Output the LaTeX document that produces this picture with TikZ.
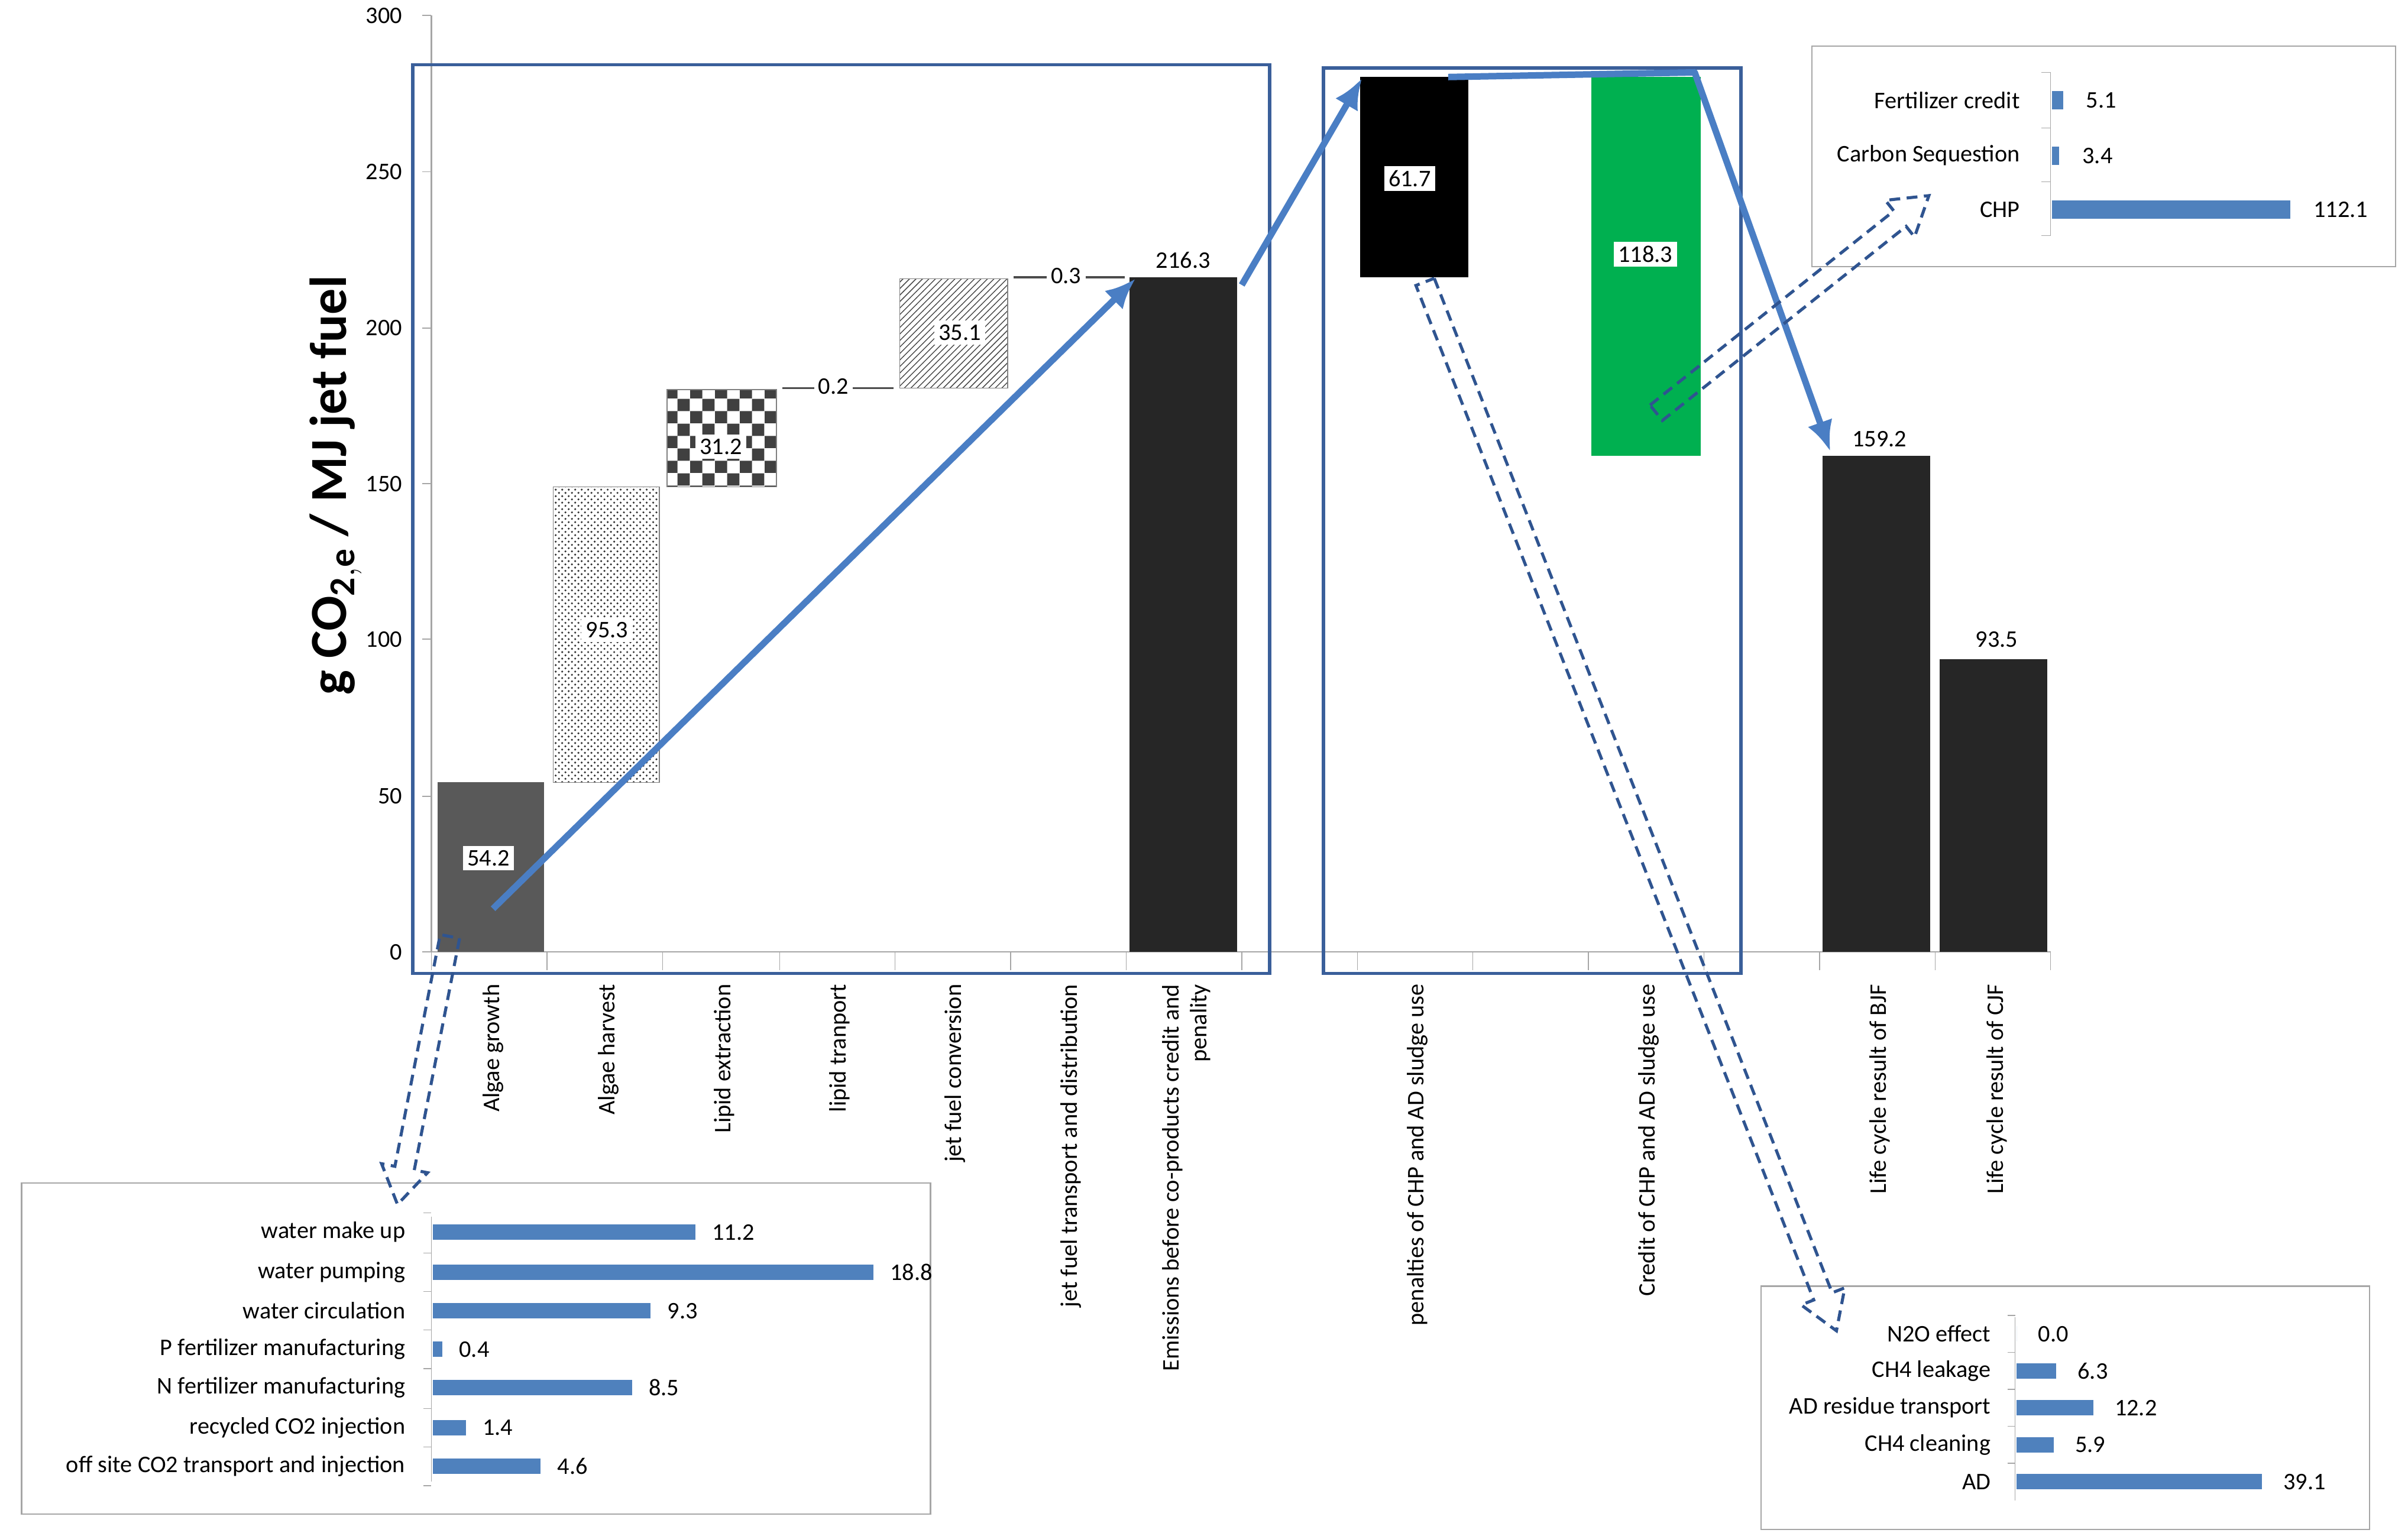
\documentclass[tikz,border=0pt]{standalone}
\usepackage{fontspec}
\setmainfont{Carlito}
\usetikzlibrary{calc,patterns,arrows.meta}
\definecolor{ablue}{HTML}{4A7EC4}
\definecolor{bblue}{HTML}{3A5F9A}
\definecolor{dblue}{HTML}{2F5490}
\definecolor{ibar}{HTML}{4F81BD}
\definecolor{agreen}{HTML}{00B050}
\tikzset{
 lbl/.style={font=\fontsize{11pt}{13pt}\selectfont},
 vbox/.style={fill=white,inner sep=2pt,lbl},
 frame/.style={draw=bblue,line width=1.6pt},
 barrow/.style={draw=ablue,line width=3pt,-{Latex[length=14pt,width=12pt]}},
 harrow/.style={draw=dblue,line width=1.4pt,dash pattern=on 5pt off 3pt},
 cat/.style={lbl,rotate=90,anchor=east,align=right},
 ibarst/.style={fill=ibar,draw=none},
 inset/.style={draw=gray!70,line width=0.6pt,fill=white},
}
\newcommand\hollowarrow[3]{%
 \coordinate (#3h) at ($(#2)!0.6cm!(#1)$);
 \draw[harrow] ($(#1)!0.16cm!90:(#2)$) -- ($(#3h)!0.16cm!90:(#2)$) -- ($(#3h)!0.38cm!90:(#2)$) -- (#2)
  -- ($(#3h)!0.38cm!-90:(#2)$) -- ($(#3h)!0.16cm!-90:(#2)$) -- ($(#1)!0.16cm!-90:(#2)$) -- cycle;}
\begin{document}
\begin{tikzpicture}[x=0.025cm,y=-0.025cm]
\useasboundingbox (0,0) rectangle (1563,995);
% axes
\draw[gray!70,line width=0.6pt] (280,10) -- (280,618) -- (1331,618);
\foreach \v/\yy in {0/618,50/517,100/415,150/314,200/213,250/111.5,300/10}{
 \draw[gray!70] (274,\yy) -- (280,\yy);
 \node[lbl,anchor=east] (t\v) at (266,\yy) {\v};}
\foreach \xx in {280,355,430,506,581,656,731,806,881,956,1031,1106,1181,1256,1331}
 \draw[gray!70] (\xx,618) -- (\xx,630);
\node[rotate=90,font=\fontsize{24pt}{28pt}\selectfont\bfseries] (ytitle) at (218,315) {g CO$_{\mathbf{2,e}}$ / MJ jet fuel};
% bars
\fill[black!65] (284,508) rectangle (353,618);
\draw[gray,pattern=crosshatch dots,pattern color=black!80] (359,316) rectangle (428,508);
\draw[gray,pattern=checkerboard,pattern color=black!75] (433,253) rectangle (504,316);
\draw[black!70,line width=1pt] (508,252) -- (580,252);
\draw[gray,pattern=north east lines,pattern color=black!70] (584,181) rectangle (654,252);
\draw[black!70,line width=1pt] (658,180) -- (730,180);
\fill[black!85] (733,180) rectangle (803,618);
\fill[black] (883,50) rectangle (953,180);
\fill[agreen] (1033,50) rectangle (1104,296);
\fill[black!85] (1183,296) rectangle (1253,618);
\fill[black!85] (1259,428) rectangle (1329,618);
\node[vbox] (v1) at (317,557) {54.2};
\node[vbox] (v2) at (394,409) {95.3};
\node[vbox] (v3) at (468,290) {31.2};
\node[vbox] (v4) at (541,251) {0.2};
\node[vbox] (v5) at (623,216) {35.1};
\node[vbox] (v6) at (692,179) {0.3};
\node[lbl] (v7) at (768,169) {216.3};
\node[vbox] (v8) at (915,116) {61.7};
\node[vbox] (v9) at (1068,165) {118.3};
\node[lbl] (v10) at (1220,285) {159.2};
\node[lbl] (v11) at (1296,415) {93.5};
% categories
\node[cat] (c1) at (320,634) {Algae growth};
\node[cat] (c2) at (395,634) {Algae harvest};
\node[cat] (c3) at (470,634) {Lipid extraction};
\node[cat] (c4) at (545,634) {lipid tranport};
\node[cat] (c5) at (620,634) {jet fuel conversion};
\node[cat] (c6) at (695,634) {jet fuel transport and distribution};
\node[cat] (c7) at (770,634) {Emissions before co-products credit and\\penality};
\node[cat] (c8) at (920,634) {penalties of CHP and AD sludge use};
\node[cat] (c9) at (1070,634) {Credit of CHP and AD sludge use};
\node[cat] (c10) at (1220,634) {Life cycle result of BJF};
\node[cat] (c11) at (1296,634) {Life cycle result of CJF};
% frames
\draw[frame] (268,42) rectangle (824,632);
\draw[frame] (859,44) rectangle (1130,632);
% blue arrows
\coordinate (a1s) at (320,590); \coordinate (a1e) at (737,181);
\coordinate (a2s) at (806,185); \coordinate (a2e) at (884,51);
\coordinate (a3s) at (940,50); \coordinate (a3m) at (1100,47); \coordinate (a3e) at (1188,293);
\draw[barrow] (a1s) -- (a1e);
\draw[barrow] (a2s) -- (a2e);
\draw[barrow,line join=round] (a3s) -- (a3m) -- (a3e);
% insets
\draw[inset] (14,768) rectangle (604,983);
\draw[gray!70] (280,790) -- (280,962);
\foreach \n/\t/\v/\yy in {1/water make up/11.2/800,2/water pumping/18.8/826,3/water circulation/9.3/851,4/P fertilizer manufacturing/0.4/876,5/N fertilizer manufacturing/8.5/901,6/recycled CO2 injection/1.4/927,7/off site CO2 transport and injection/4.6/952}{
 \fill[ibar] (281,\yy-5) rectangle ({281+15.2*\v},\yy+5);
 \draw[gray!70] (275,\yy-12.5) -- (280,\yy-12.5);
 \node[lbl,anchor=east] (ia\n) at (268,\yy) {\t};
 \node[lbl,anchor=west] (iav\n) at ({287+15.2*\v},\yy) {\v};}
\draw[gray!70] (275,964.5) -- (280,964.5);
\draw[inset] (1143,835) rectangle (1538,993);
\draw[gray!70] (1308,855) -- (1308,974);
\foreach \n/\t/\v/\yy in {1/N2O effect/0.0/866,2/CH4 leakage/6.3/890,3/AD residue transport/12.2/914,4/CH4 cleaning/5.9/938,5/AD/39.1/962}{
 \fill[ibar] (1309,\yy-5) rectangle ({1309+4.07*\v},\yy+5);
 \draw[gray!70] (1303,\yy-12) -- (1308,\yy-12);
 \node[lbl,anchor=east] (ib\n) at (1297,\yy) {\t};
 \node[lbl,anchor=west] (ibv\n) at ({1318+4.07*\v},\yy) {\v};}
\draw[inset] (1176,30) rectangle (1555,173);
\draw[gray!70] (1331,47) -- (1331,153);
\foreach \n/\t/\v/\yy in {1/Fertilizer credit/5.1/65,2/Carbon Sequestion/3.4/101,3/CHP/112.1/136}{
 \fill[ibar] (1332,\yy-6) rectangle ({1332+1.38*\v},\yy+6);
 \draw[gray!70] (1325,\yy-18) -- (1331,\yy-18);
 \node[lbl,anchor=east] (ic\n) at (1316,\yy) {\t};
 \node[lbl,anchor=west] (icv\n) at ({1342+1.38*\v},\yy) {\v};}
\draw[gray!70] (1325,153) -- (1331,153);
% hollow dashed arrows
\coordinate (h1s) at (292,608); \coordinate (h1e) at (258,782);
\coordinate (h2s) at (925,183); \coordinate (h2e) at (1192,864);
\coordinate (h3s) at (1075,268); \coordinate (h3e) at (1252,127);
\hollowarrow{h1s}{h1e}{ha}
\hollowarrow{h2s}{h2e}{hb}
\hollowarrow{h3s}{h3e}{hc}
\end{tikzpicture}
\end{document}
